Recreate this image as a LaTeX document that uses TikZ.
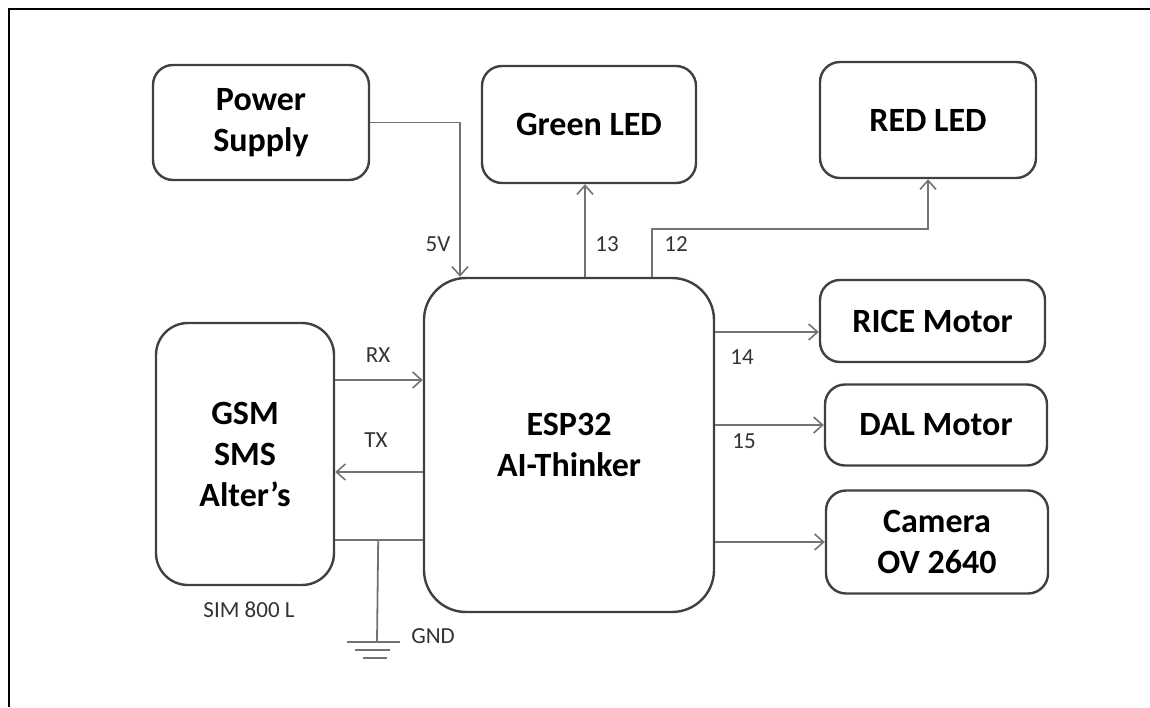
\documentclass[tikz,border=0pt]{standalone}
\usepackage{fontspec}
\setmainfont{Carlito}
\usetikzlibrary{arrows.meta, positioning}

\begin{document}
\begin{tikzpicture}[
x=1pt, y=-1pt,
block/.style={draw=black!75, line width=2.4pt, rounded corners=20pt, align=center, font=\fontsize{34}{41}\selectfont\bfseries},
arrow/.style={draw=black!55, line width=1.8pt, -{Straight Barb[length=9pt,width=16pt,line width=1.6pt]}},
wire/.style={draw=black!55, line width=1.8pt},
pin/.style={font=\fontsize{23}{26}\selectfont, text=black!80}
]
\useasboundingbox (0,0) rectangle (1150,707);
\draw[line width=2.5pt] (1150,9) -- (9,9) -- (9,707);

\node[block, minimum width=216pt, minimum height=115pt] (power) at (261,122.5) {Power\\Supply};
\node[block, minimum width=214pt, minimum height=117pt] (green) at (589,124.5) {Green LED};
\node[block, minimum width=216pt, minimum height=116pt] (red) at (928,120) {RED LED};
\node[block, rounded corners=42pt, minimum width=290pt, minimum height=334pt] (esp) at (569,445) {ESP32\\AI-Thinker};
\node[block, rounded corners=32pt, minimum width=178pt, minimum height=262pt] (gsm) at (245,454) {GSM\\SMS\\Alter’s};
\node[block, minimum width=225pt, minimum height=82pt] (rice) at (932.5,321) {RICE Motor};
\node[block, minimum width=222pt, minimum height=81pt] (dal) at (936,425) {DAL Motor};
\node[block, minimum width=222pt, minimum height=103pt] (cam) at (937,542) {Camera\\OV 2640};

\draw[arrow] (power.east) -| ([xshift=-109pt]esp.north);
\draw[arrow] ([xshift=16pt]esp.north) -- ([xshift=16pt]esp.north |- green.south);
\draw[arrow] ([xshift=83pt]esp.north) |- ([yshift=-50pt]red.south) -- (red.south);
\draw[arrow] ([yshift=74pt]gsm.east) -- ([yshift=74pt]gsm.east -| esp.west);
\draw[arrow] ([yshift=-18pt]gsm.east -| esp.west) -- ([yshift=-18pt]gsm.east);
\draw[arrow] ([yshift=-11pt]rice.west -| esp.east) -- ([yshift=-11pt]rice.west);
\draw[arrow] (dal.west -| esp.east) -- (dal.west);
\draw[arrow] (cam.west -| esp.east) -- (cam.west);

% ground
\draw[wire] ([yshift=-86pt]gsm.east) -- ([yshift=-86pt]gsm.east -| esp.west);
\coordinate (gndjoin) at ([xshift=43pt,yshift=-86pt]gsm.east);
\coordinate (gnd) at (377,642);
\draw[wire] (gndjoin) -- (gnd);
\draw[wire] ([xshift=-30pt]gnd) -- ([xshift=23pt]gnd);
\draw[wire] ([xshift=-22pt,yshift=-8pt]gnd) -- ([xshift=13pt,yshift=-8pt]gnd);
\draw[wire] ([xshift=-14pt,yshift=-16pt]gnd) -- ([xshift=10pt,yshift=-16pt]gnd);

\node[pin] (v5) at (438,244) {5V};
\node[pin] (p13) at (607,244) {13};
\node[pin] (p12) at (676,244) {12};
\node[pin] (rx) at (378,355) {RX};
\node[pin] (tx) at (376,440) {TX};
\node[pin] (p14) at (742,357) {14};
\node[pin] (p15) at (744,441) {15};
\node[pin] (gndlbl) at (433,636) {GND};
\node[pin] (sim) at (249,610) {SIM 800 L};
\end{tikzpicture}
\end{document}
